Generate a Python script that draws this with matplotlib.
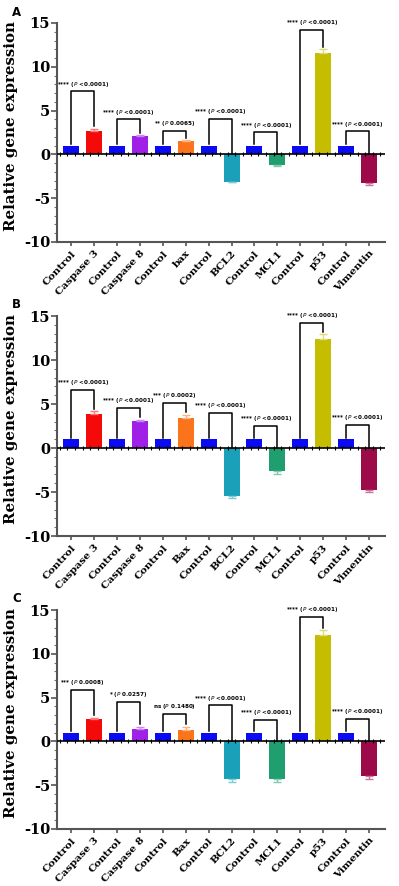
import matplotlib

matplotlib.use("Agg")
import matplotlib.pyplot as plt
import numpy as np
from matplotlib.colors import to_rgb

plt.rcParams["axes.unicode_minus"] = False

# ---- Datos (tres paneles A, B, C) ----
LABELS_A = ["Control", "Caspase 3", "Control", "Caspase 8", "Control", "bax", "Control",
            "BCL2", "Control", "MCL1", "Control", "p53", "Control", "Vimentin"]
LABELS_BC = ["Control", "Caspase 3", "Control", "Caspase 8", "Control", "Bax", "Control",
             "BCL2", "Control", "MCL1", "Control", "p53", "Control", "Vimentin"]

BAR_COLORS = ["#0a0af5", "#f50a0a", "#0a0af5", "#a020e8", "#0a0af5", "#fb741c", "#0a0af5",
              "#1aa0b8", "#0a0af5", "#1f9e70", "#0a0af5", "#c4bd00", "#0a0af5", "#9c0a4a"]

VALUES_A = [1, 2.7, 1, 2.1, 1, 1.5, 1, -3.1, 1, -1.2, 1, 11.6, 1, -3.3]
ERRORS_A = [0, 0.2, 0, 0.08, 0, 0.12, 0, 0.1, 0, 0.12, 0, 0.4, 0, 0.15]
VALUES_B = [1, 3.9, 1, 3.1, 1, 3.4, 1, -5.5, 1, -2.6, 1, 12.4, 1, -4.8]
ERRORS_B = [0, 0.25, 0, 0.1, 0, 0.35, 0, 0.2, 0, 0.3, 0, 0.5, 0, 0.2]
VALUES_C = [1, 2.6, 1, 1.4, 1, 1.3, 1, -4.3, 1, -4.3, 1, 12.1, 1, -4.0]
ERRORS_C = [0, 0.08, 0, 0.3, 0, 0.35, 0, 0.35, 0, 0.35, 0, 0.6, 0, 0.3]

# Anotaciones de significancia: estrellas, p y altura del corchete
STARS_A = ["****", "****", "**", "****", "****", "****", "****"]
PVALS_A = ["<0.0001", "<0.0001", "0.0065", "<0.0001", "<0.0001", "<0.0001", "<0.0001"]
BRACKET_A = [7.2, 4.0, 2.7, 4.05, 2.5, 14.2, 2.65]

STARS_B = ["****", "****", "***", "****", "****", "****", "****"]
PVALS_B = ["<0.0001", "<0.0001", "0.0002", "<0.0001", "<0.0001", "<0.0001", "<0.0001"]
BRACKET_B = [6.6, 4.6, 5.1, 4.0, 2.5, 14.2, 2.65]

STARS_C = ["***", "*", "ns", "****", "****", "****", "****"]
PVALS_C = ["0.0008", "0.0257", "0.1480", "<0.0001", "<0.0001", "<0.0001", "<0.0001"]
BRACKET_C = [5.9, 4.5, 3.15, 4.1, 2.5, 14.25, 2.6]

W, H = 399, 886
SERIF = "DejaVu Serif"


def lighter(c, f=0.45):
    r, g, b = to_rgb(c)
    return (r + (1 - r) * f, g + (1 - g) * f, b + (1 - b) * f)


def draw_panel(fig, top_px, bot_px, letter, labels, values, errors, stars, pvals, brackets):
    ax = fig.add_axes([57 / W, 1 - bot_px / H, (385 - 57) / W, (bot_px - top_px) / H])
    x = np.arange(len(values))
    ax.bar(x, values, width=0.7, color=BAR_COLORS, zorder=2)
    for xi, v, e, c in zip(x, values, errors, BAR_COLORS):
        if e > 0:
            ax.errorbar(xi, v, yerr=[[0], [e]] if v > 0 else [[e], [0]], fmt="none",
                        ecolor=lighter(c), elinewidth=1.0, capsize=3, capthick=1.0, zorder=3)

    # línea del cero con marcas pequeñas
    ax.axhline(0, color="black", lw=1.2, zorder=4)
    ticks0 = np.arange(-0.5, len(values) - 0.4, 1 / 3)
    ax.plot(ticks0, np.zeros_like(ticks0), ls="none", marker="|", ms=3, mew=0.8,
            color="black", zorder=4)

    # corchetes
    for k, (s, p, yb) in enumerate(zip(stars, pvals, brackets)):
        x0, x1 = 2 * k, 2 * k + 1
        left_end = values[x0] + 0.15
        v1 = values[x1]
        right_end = v1 + errors[x1] + 0.3 if v1 > 0 else 0
        ax.plot([x0, x0, x1, x1], [left_end, yb, yb, right_end], color="black",
                lw=1.1, zorder=5)
        if p.startswith("<"):
            txt = f"{s} ($\\it{{P}}$ <{p[1:]})"
        else:
            txt = f"{s} ($\\it{{P}}$ {p})"
        ax.text((x0 + x1) / 2, yb + 0.3, txt, ha="center", va="bottom",
                fontsize=4.1, fontweight="bold", family="DejaVu Sans", zorder=6)

    ax.set_xlim(-0.62, len(values) - 0.3)
    ax.set_ylim(-10, 15)
    ax.set_yticks([-10, -5, 0, 5, 10, 15])
    ax.set_yticks(np.arange(-10, 16, 1), minor=True)
    ax.set_xticks(x)
    ax.set_xticklabels(labels, rotation=47, ha="right", rotation_mode="anchor",
                       fontsize=7.5, fontweight="bold", family=SERIF)
    for lab in ax.get_yticklabels():
        lab.set_fontsize(10.5)
        lab.set_fontweight("bold")
        lab.set_family(SERIF)
    ax.tick_params(axis="y", which="major", length=4, width=1.2, color="#555555", pad=1)
    ax.tick_params(axis="y", which="minor", length=2, width=0.8, color="#777777")
    ax.tick_params(axis="x", length=3, width=1.2, color="#555555", pad=2)
    for side in ["top", "right"]:
        ax.spines[side].set_visible(False)
    for side in ["left", "bottom"]:
        ax.spines[side].set_color("#555555")
        ax.spines[side].set_linewidth(1.5)
    ax.set_ylabel("Relative gene expression", fontsize=10.8, fontweight="bold",
                  family=SERIF)
    ax.yaxis.set_label_coords((18 - 57) / (385 - 57), 0.53)
    fig.text(12 / W, 1 - (top_px - 11) / H, letter, fontsize=8.5, fontweight="bold",
             family="DejaVu Sans", ha="left", va="center")
    return ax


fig = plt.figure(figsize=(W / 100, H / 100), dpi=100)
fig.patch.set_facecolor("white")
draw_panel(fig, 23, 242, "A", LABELS_A, VALUES_A, ERRORS_A, STARS_A, PVALS_A, BRACKET_A)
draw_panel(fig, 316, 536, "B", LABELS_BC, VALUES_B, ERRORS_B, STARS_B, PVALS_B, BRACKET_B)
draw_panel(fig, 610, 829, "C", LABELS_BC, VALUES_C, ERRORS_C, STARS_C, PVALS_C, BRACKET_C)
fig.savefig("out.png", dpi=100)
